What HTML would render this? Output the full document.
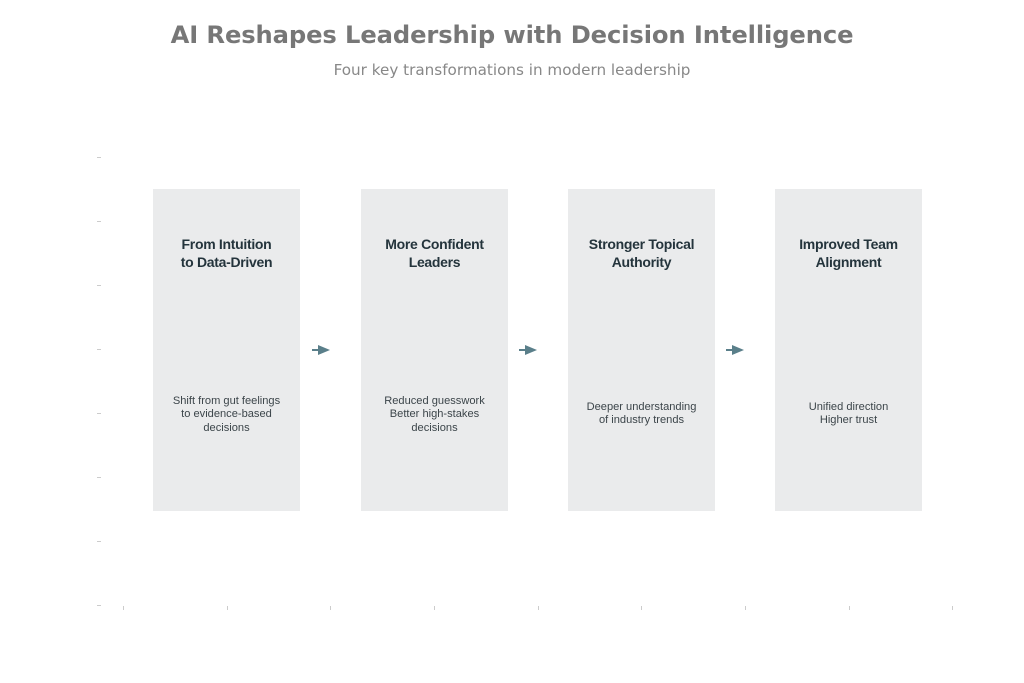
<!DOCTYPE html>
<html><head><meta charset="utf-8"><style>
body{margin:0;width:1024px;height:683px;background:#fff;overflow:hidden;position:relative;font-family:"Liberation Sans",sans-serif}
.t{position:absolute;left:0;width:1024px;text-align:center;font-family:"DejaVu Sans",sans-serif}
.card{position:absolute;top:189px;width:147px;height:322px;background:#eaebec}
.h{position:absolute;top:46px;width:100%;text-align:center;font-size:14px;line-height:18px;color:#24343c;font-weight:bold;letter-spacing:-0.3px}
.b{position:absolute;width:100%;text-align:center;font-size:11.1px;line-height:13.3px;color:#3c454a}
</style></head><body>
<div class="t" style="top:21px;font-size:24.2px;font-weight:bold;color:#777;letter-spacing:-0.1px">AI Reshapes Leadership with Decision Intelligence</div>
<div class="t" style="top:61px;font-size:15.2px;color:#888">Four key transformations in modern leadership</div>
<div class="card" style="left:153px"><div class="h">From Intuition<br>to Data-Driven</div><div class="b" style="top:206px">Shift from gut feelings<br>to evidence-based<br>decisions</div></div>
<div class="card" style="left:361px"><div class="h">More Confident<br>Leaders</div><div class="b" style="top:206px">Reduced guesswork<br>Better high-stakes<br>decisions</div></div>
<div class="card" style="left:568px"><div class="h">Stronger Topical<br>Authority</div><div class="b" style="top:212px">Deeper understanding<br>of industry trends</div></div>
<div class="card" style="left:775px"><div class="h">Improved Team<br>Alignment</div><div class="b" style="top:212px">Unified direction<br>Higher trust</div></div>
<svg width="1024" height="683" style="position:absolute;left:0;top:0">
<g fill="#5a7f8a" stroke="#5a7f8a" stroke-width="2">
<line x1="312" y1="350" x2="320" y2="350"/><polygon points="318,345 330,350 318,355" stroke="none"/>
<line x1="519" y1="350" x2="527" y2="350"/><polygon points="525,345 537,350 525,355" stroke="none"/>
<line x1="726" y1="350" x2="734" y2="350"/><polygon points="732,345 744,350 732,355" stroke="none"/>
</g>
<g stroke="#ccc" stroke-width="1">
<line x1="97" y1="157.5" x2="101" y2="157.5"/><line x1="97" y1="221.5" x2="101" y2="221.5"/><line x1="97" y1="285.5" x2="101" y2="285.5"/><line x1="97" y1="349.5" x2="101" y2="349.5"/><line x1="97" y1="413.5" x2="101" y2="413.5"/><line x1="97" y1="477.5" x2="101" y2="477.5"/><line x1="97" y1="541.5" x2="101" y2="541.5"/><line x1="97" y1="605.5" x2="101" y2="605.5"/>
<line x1="123.5" y1="606" x2="123.5" y2="610"/><line x1="227.5" y1="606" x2="227.5" y2="610"/><line x1="330.5" y1="606" x2="330.5" y2="610"/><line x1="434.5" y1="606" x2="434.5" y2="610"/><line x1="538.5" y1="606" x2="538.5" y2="610"/><line x1="641.5" y1="606" x2="641.5" y2="610"/><line x1="745.5" y1="606" x2="745.5" y2="610"/><line x1="849.5" y1="606" x2="849.5" y2="610"/><line x1="952.5" y1="606" x2="952.5" y2="610"/>
</g>
</svg>
</body></html>
